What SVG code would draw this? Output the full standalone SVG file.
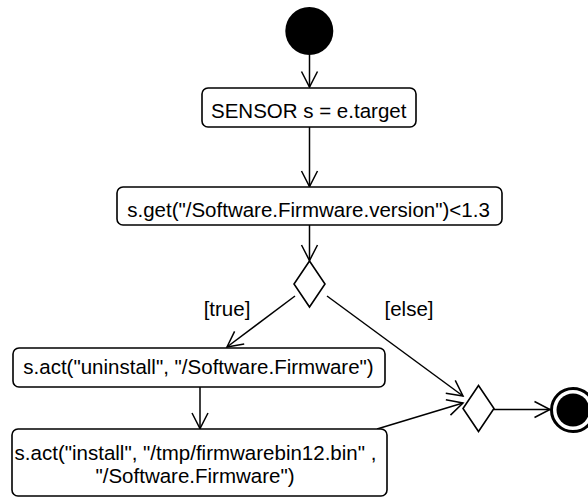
<svg xmlns="http://www.w3.org/2000/svg" width="588" height="498" viewBox="0 0 588 498">
<style>
.node rect{fill:#fff;stroke:#000;stroke-width:1.6}
.dia{fill:#fff;stroke:#000;stroke-width:1.6}
text{font-family:"Liberation Sans",Arial,sans-serif;font-size:20.5px;fill:#000}
.edge{stroke:#000;stroke-width:1.5;fill:none;marker-end:url(#arr)}
</style>
<defs>
<marker id="arr" markerUnits="userSpaceOnUse" viewBox="-18 -10 20 20" markerWidth="20" markerHeight="20" refX="0" refY="0" orient="auto">
<path d="M-15.5,-8 L0,0 L-15.5,8" fill="none" stroke="#000" stroke-width="1.5"/>
</marker>
</defs>
<rect width="588" height="498" fill="#fff"/>
<g id="connectors">
<line class="edge" x1="309.5" y1="55" x2="309.5" y2="87"/>
<line class="edge" x1="309.5" y1="127" x2="309.5" y2="186.5"/>
<line class="edge" x1="309.5" y1="225" x2="309.5" y2="260.5"/>
<line class="edge" x1="295" y1="296" x2="227" y2="347"/>
<line class="edge" x1="327" y1="296" x2="463" y2="396"/>
<line class="edge" x1="200" y1="387" x2="200" y2="428.5"/>
<line class="edge" x1="377" y1="429" x2="463" y2="403"/>
<line class="edge" x1="494" y1="409.5" x2="550" y2="409.5"/>
<text x="227" y="316" text-anchor="middle">[true]</text>
<text x="409" y="316" text-anchor="middle">[else]</text>
</g>
<g id="start"><circle cx="309.3" cy="31" r="24" fill="#000"/></g>
<g id="n1" class="node"><rect x="202" y="88" width="214" height="39" rx="6"/><text x="308.7" y="118" text-anchor="middle">SENSOR s = e.target</text></g>
<g id="n2" class="node"><rect x="117" y="187" width="385" height="38" rx="6"/><text x="308.5" y="217" text-anchor="middle">s.get("/Software.Firmware.version")&lt;1.3</text></g>
<g id="d1"><polygon class="dia" points="309.5,261 325,284 309.5,307 294,284"/></g>
<g id="n3" class="node"><rect x="13" y="348" width="372" height="39" rx="6"/><text x="198.5" y="374" text-anchor="middle">s.act("uninstall", "/Software.Firmware")</text></g>
<g id="n4" class="node"><rect x="12" y="429" width="375" height="67" rx="6"/><text x="195.5" y="460" text-anchor="middle">s.act("install", "/tmp/firmwarebin12.bin" ,</text><text x="195" y="483" text-anchor="middle">"/Software.Firmware")</text></g>
<g id="d2"><polygon class="dia" points="478.5,385.5 494,408.5 478.5,431.5 463,408.5"/></g>
<g id="end"><circle cx="573" cy="410" r="21.5" fill="#fff" stroke="#000" stroke-width="3"/><circle cx="573" cy="410" r="16.5" fill="#000"/></g>
</svg>
